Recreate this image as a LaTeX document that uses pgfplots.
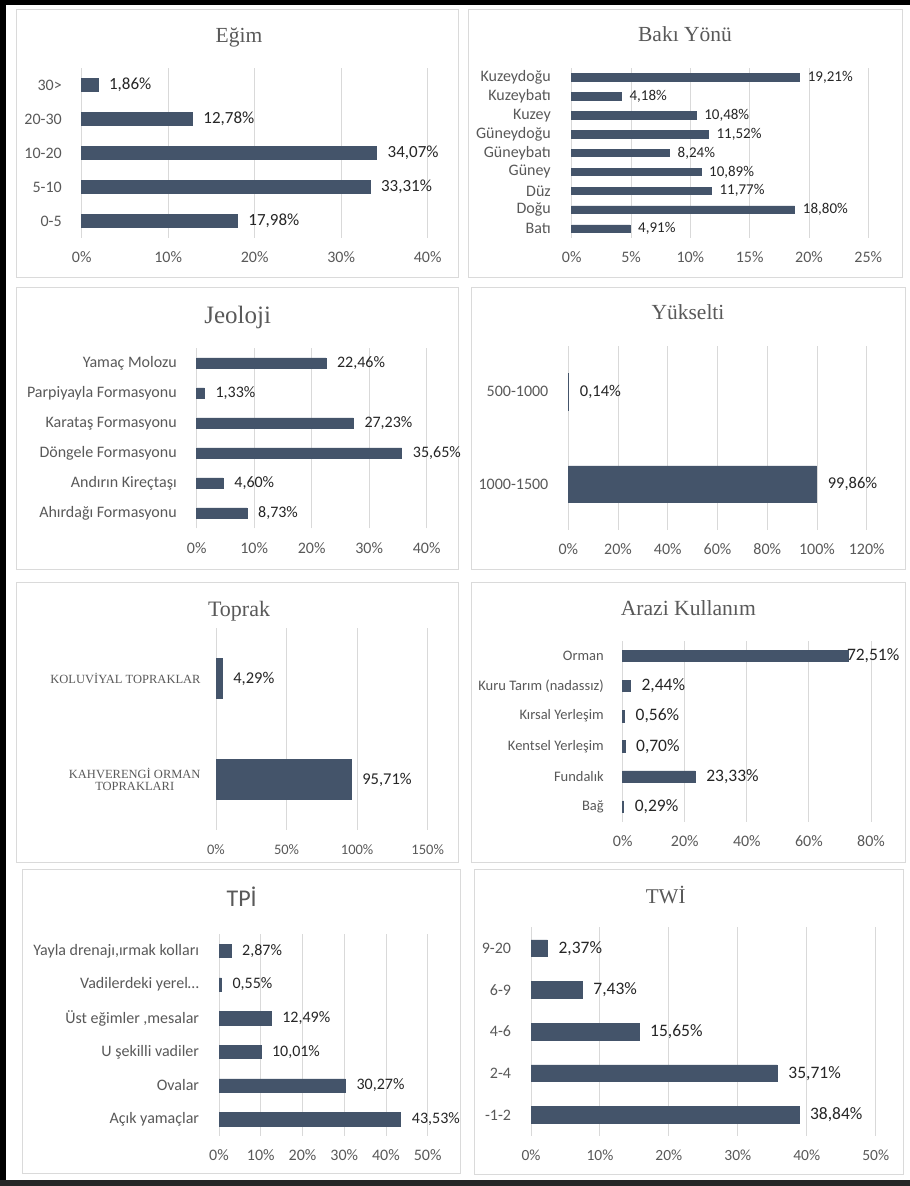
\documentclass[border=0pt]{standalone}
\usepackage{pgfplots}
\pgfplotsset{compat=1.18}
\usepackage{fontspec}
\setmainfont{Carlito}
\setsansfont{Carlito}
\newfontfamily\ttlserif{Liberation Serif}
\definecolor{barcol}{HTML}{44546A}
\definecolor{gridcol}{HTML}{D9D9D9}
\definecolor{lblcol}{HTML}{595959}
\definecolor{valcol}{HTML}{262626}
\definecolor{boxcol}{HTML}{DADADA}
\newcommand{\fs}[1]{\fontsize{#1}{#1}\selectfont}

\pgfplotsset{
  panel/.style={
    xbar, scale only axis, bar shift=0pt, clip=false,
    axis line style={draw=none},
    xtick style={draw=none}, ytick style={draw=none},
    xmajorgrids, major grid style={gridcol, line width=0.9pt},
    xmin=0,
    /pgf/number format/assume math mode=true,
    xticklabel={\pgfmathprintnumber{\tick}\%},
    xticklabel style={font=\fs{16}, text=lblcol, anchor=center, yshift=-19.5pt, inner sep=0pt},
    yticklabel style={font=\fs{16}, text=lblcol, anchor=east, xshift=-15.5pt, inner sep=0pt},
    point meta=x,
    nodes near coords={\pgfmathprintnumber[fixed,fixed zerofill,precision=2,use comma]{\pgfplotspointmeta}\%},
    every node near coord/.append style={anchor=west, xshift=11pt, inner sep=0pt, text=valcol, font=\fs{17}},
  },
  bars/.style={fill=barcol, draw=barcol, line width=0.5pt},
}
\tikzset{ttl/.style={text=lblcol, anchor=base, inner sep=0pt}}

\begin{document}
\begin{tikzpicture}[x=1pt,y=1pt]
\useasboundingbox (0,0) rectangle (910,1186);
\fill[white] (0,0) rectangle (910,1186);

% panel frames
\draw[boxcol, line width=1pt] (16,908) rectangle (458,1176);
\draw[boxcol, line width=1pt] (468,908) rectangle (902,1176);
\draw[boxcol, line width=1pt] (16,616) rectangle (458,898);
\draw[boxcol, line width=1pt] (471,616) rectangle (905,898);
\draw[boxcol, line width=1pt] (16,323) rectangle (458,603);
\draw[boxcol, line width=1pt] (471,323) rectangle (905,603);
\draw[boxcol, line width=1pt] (22,12) rectangle (460,316);
\draw[boxcol, line width=1pt] (474,11) rectangle (903,316);

% Egim
\node[ttl, font=\ttlserif\fs{21.5}] at (239,1143.3) {Eğim};
\begin{axis}[panel, at={(81.7pt,948pt)}, anchor=south west,
  width=346pt, height=170pt, xmax=40, xtick={0,10,...,40},
  ymin=-0.5, ymax=4.5, bar width=13.5pt, ytick={0,...,4},
  yticklabels={0-5,5-10,10-20,20-30,30>}]
\addplot[bars] coordinates {(17.98,0) (33.31,1) (34.07,2) (12.78,3) (1.86,4)};
\end{axis}

% Baki Yonu
\node[ttl, font=\ttlserif\fs{21.5}] at (685,1144.3) {Bakı Yönü};
\begin{axis}[panel, at={(571.7pt,948pt)}, anchor=south west,
  width=296.6pt, height=170pt, xmax=25, xtick={0,5,...,25},
  ymin=-0.5, ymax=8.5, bar width=7.5pt, ytick={0,...,8},
  yticklabel style={xshift=-1pt},
  every node near coord/.append style={font=\fs{15}, xshift=-3pt},
  yticklabels={Batı,Doğu,Düz,Güney,Güneybatı,Güneydoğu,Kuzey,Kuzeybatı,Kuzeydoğu}]
\addplot[bars] coordinates {(4.91,0) (18.80,1) (11.77,2) (10.89,3) (8.24,4)
  (11.52,5) (10.48,6) (4.18,7) (19.21,8)};
\end{axis}

% Jeoloji
\node[ttl, font=\ttlserif\fs{25}] at (237.7,862.7) {Jeoloji};
\begin{axis}[panel, at={(196.7pt,657.7pt)}, anchor=south west,
  width=230pt, height=180pt, xmax=40, xtick={0,10,...,40},
  ymin=-0.5, ymax=5.5, bar width=10.7pt, ytick={0,...,5},
  every node near coord/.append style={font=\fs{16}},
  yticklabels={Ahırdağı Formasyonu,Andırın Kireçtaşı,Döngele Formasyonu,
    Karataş Formasyonu,Parpiyayla Formasyonu,Yamaç Molozu}]
\addplot[bars] coordinates {(8.73,0) (4.60,1) (35.65,2) (27.23,3) (1.33,4) (22.46,5)};
\end{axis}

% Yukselti
\node[ttl, font=\ttlserif\fs{21.5}] at (688,866) {Yükselti};
\begin{axis}[panel, at={(568.3pt,656pt)}, anchor=south west,
  width=298.4pt, height=184.3pt, xmax=120, xtick={0,20,...,120},
  ymin=-0.5, ymax=1.5, bar width=36.3pt, ytick={0,1},
  every node near coord/.append style={font=\fs{16.5}},
  yticklabels={1000-1500,500-1000}]
\addplot[bars] coordinates {(99.86,0) (0.14,1)};
\end{axis}

% Toprak
\node[ttl, font=\ttlserif\fs{22}] at (239,569.3) {Toprak};
\begin{axis}[panel, at={(216pt,356pt)}, anchor=south west,
  width=211.7pt, height=202pt, xmax=150, xtick={0,50,100,150},
  ymin=-0.5, ymax=1.5, bar width=40pt, ytick={0,1},
  xticklabel style={font=\fs{14.5}},
  yticklabel style={font=\ttlserif\fs{12.5}, align=center, xshift=4.5pt},
  every node near coord/.append style={font=\fs{16.5}},
  yticklabels={{KAHVERENGİ ORMAN\\TOPRAKLARI},{KOLUVİYAL TOPRAKLAR}}]
\addplot[bars] coordinates {(95.71,0) (4.29,1)};
\end{axis}

% Arazi Kullanim
\node[ttl, font=\ttlserif\fs{21.6}] at (688.3,570) {Arazi Kullanım};
\begin{axis}[panel, at={(622.7pt,364.3pt)}, anchor=south west,
  width=248.3pt, height=181pt, xmax=80, xtick={0,20,...,80},
  ymin=-0.5, ymax=5.5, bar width=11.3pt, ytick={0,...,5},
  yticklabel style={font=\fs{14.5}, xshift=1pt},
  every node near coord/.append style={font=\fs{17.5}},
  yticklabels={Bağ,Fundalık,Kentsel Yerleşim,Kırsal Yerleşim,Kuru Tarım (nadassız),Orman}]
\addplot[bars] coordinates {(0.29,0) (23.33,1) (0.70,2) (0.56,3) (2.44,4)};
\addplot[bars, every node near coord/.append style={xshift=-12pt}] coordinates {(72.51,5)};
\end{axis}

% TPI
\node[ttl, font=\fs{24}] at (241.7,279.3) {TPİ};
\begin{axis}[panel, at={(219pt,50pt)}, anchor=south west,
  width=208.7pt, height=202pt, xmax=50, xtick={0,10,...,50},
  ymin=-0.5, ymax=5.5, bar width=13.3pt, ytick={0,...,5},
  every node near coord/.append style={font=\fs{16}},
  yticklabels={Açık yamaçlar,Ovalar,U şekilli vadiler,{Üst eğimler ,mesalar},
    {Vadilerdeki yerel…},{Yayla drenajı,ırmak kolları}}]
\addplot[bars] coordinates {(43.53,0) (30.27,1) (10.01,2) (12.49,3) (0.55,4) (2.87,5)};
\end{axis}

% TWI
\node[ttl, font=\ttlserif\fs{21}] at (665.7,282) {TWİ};
\begin{axis}[panel, at={(531pt,50.2pt)}, anchor=south west,
  width=344.7pt, height=208.3pt, xmax=50, xtick={0,10,...,50},
  ymin=-0.5, ymax=4.5, bar width=16.7pt, ytick={0,...,4},
  xticklabel style={font=\fs{15.5}},
  every node near coord/.append style={font=\fs{17.5}},
  yticklabels={-1-2,2-4,4-6,6-9,9-20}]
\addplot[bars] coordinates {(38.84,0) (35.71,1) (15.65,2) (7.43,3) (2.37,4)};
\end{axis}

% outer frame
\fill[black] (0,1181) rectangle (910,1186);
\fill[black] (0,0) rectangle (6,1186);
\fill[black!85] (0,0) rectangle (910,6);
\end{tikzpicture}
\end{document}
